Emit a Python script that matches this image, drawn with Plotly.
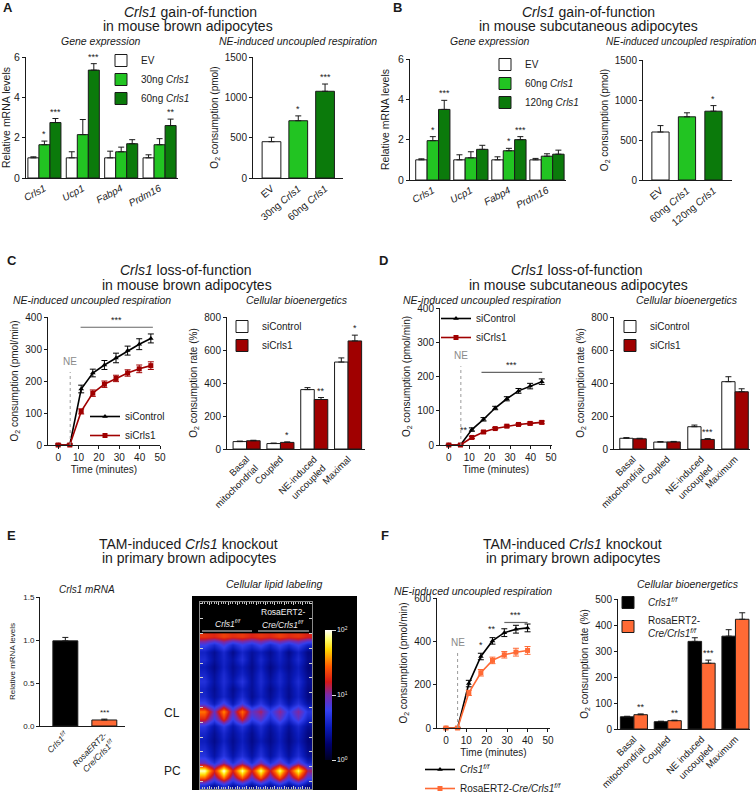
import plotly.graph_objects as go

W, H = 756, 793
FONT = "Liberation Sans, Arial, Helvetica, sans-serif"
INK = "#1a1a1a"
GREEN_L = "#22C422"
GREEN_D = "#0B7A0B"
RED_D = "#A00000"
ORANGE = "#FF6A35"

# ---------------- data ----------------
# A: gain-of-function, brown adipocytes
A_genes = ["<i>Crls1</i>", "<i>Ucp1</i>", "<i>Fabp4</i>", "<i>Prdm16</i>"]
A_series = ["EV", "30ng <i>Crls1</i>", "60ng <i>Crls1</i>"]
A_expr_EV = [1.0, 1.0, 1.0, 1.0]
A_expr_EV_err = [0.05, 0.30, 0.33, 0.15]
A_expr_30 = [1.65, 2.15, 1.30, 1.65]
A_expr_30_err = [0.18, 0.75, 0.23, 0.30]
A_expr_60 = [2.75, 5.35, 1.70, 2.60]
A_expr_60_err = [0.20, 0.32, 0.20, 0.32]
A_expr_sig = [["", "", "", ""], ["*", "", "", ""], ["***", "***", "", "**"]]
A_ne = [450, 710, 1075]
A_ne_err = [55, 60, 90]
A_ne_sig = ["", "*", "***"]

# B: gain-of-function, subcutaneous adipocytes
B_series = ["EV", "60ng <i>Crls1</i>", "120ng <i>Crls1</i>"]
B_expr_EV = [1.0, 1.0, 1.0, 1.0]
B_expr_EV_err = [0.05, 0.25, 0.15, 0.07]
B_expr_60 = [1.95, 1.10, 1.45, 1.18]
B_expr_60_err = [0.20, 0.30, 0.12, 0.12]
B_expr_120 = [3.50, 1.52, 2.00, 1.28]
B_expr_120_err = [0.45, 0.20, 0.15, 0.20]
B_expr_sig = [["", "", "", ""], ["*", "", "*", ""], ["***", "", "***", ""]]
B_ne = [600, 790, 860]
B_ne_err = [80, 50, 70]
B_ne_sig = ["", "", "*"]

# C: loss-of-function, brown adipocytes
C_time = [0, 5.7, 11.3, 17.0, 22.7, 28.4, 34.1, 39.8, 45.5]
C_ctrl = [0, 0, 175, 225, 250, 272, 295, 315, 333]
C_ctrl_err = [3, 3, 12, 12, 14, 15, 14, 17, 14]
C_kd = [0, 0, 105, 162, 190, 208, 225, 238, 248]
C_kd_err = [3, 3, 8, 10, 10, 10, 10, 12, 12]
C_sig_span = [11.0, 46.5]
C_sig_level = 368
C_ne_time = 5.9
C_ne_top = 228
C_bio_labels = ["Basal<br>mitochondrial", "Coupled", "NE-induced<br>uncoupled", "Maximal"]
C_bio_ctrl = [45, 33, 360, 527]
C_bio_ctrl_err = [3, 3, 12, 25]
C_bio_kd = [50, 40, 300, 655]
C_bio_kd_err = [3, 3, 12, 35]
C_bio_sig = ["", "*", "**", "*"]

# D: loss-of-function, subcutaneous adipocytes
D_time = [0, 5.7, 11.3, 17.0, 22.7, 28.4, 34.1, 39.8, 45.5]
D_ctrl = [0, 0, 45, 75, 108, 135, 158, 172, 185]
D_ctrl_err = [2, 2, 5, 5, 5, 6, 7, 8, 8]
D_kd = [0, 0, 22, 38, 48, 55, 60, 63, 66]
D_kd_err = [2, 2, 3, 3, 3, 3, 3, 4, 4]
D_sig_span = [16.0, 45.7]
D_sig_level = 212
D_ne_time = 5.9
D_ne_top = 230
D_bio_labels = ["Basal<br>mitochondrial", "Coupled", "NE-induced<br>uncoupled", "Maximum"]
D_bio_ctrl = [65, 42, 135, 408]
D_bio_ctrl_err = [4, 3, 10, 30]
D_bio_kd = [62, 43, 58, 347]
D_bio_kd_err = [3, 3, 5, 18]
D_bio_sig = ["", "", "***", ""]

# E: TAM-induced knockout
E_labels = ["<i>Crls1<sup>f/f</sup></i>", "<i>RosaERT2-<br>Cre/Crls1<sup>f/f</sup></i>"]
E_mrna = [0.99, 0.07]
E_mrna_err = [0.04, 0.01]
E_mrna_sig = ["", "***"]
# log10 ion intensity, rows top->bottom, 6 lanes x (spot, gap)
E_lipid = [
    [1.30, 1.25, 1.35, 1.28, 1.32, 1.24, 1.30, 1.26, 1.34, 1.27, 1.31, 1.22],
    [0.80, 0.62, 0.85, 0.60, 0.78, 0.64, 0.82, 0.60, 0.79, 0.63, 0.80, 0.58],
    [0.55, 0.38, 0.60, 0.35, 0.58, 0.40, 0.52, 0.37, 0.57, 0.34, 0.55, 0.32],
    [0.62, 0.40, 0.58, 0.42, 0.65, 0.38, 0.60, 0.40, 0.55, 0.39, 0.61, 0.35],
    [0.50, 0.34, 0.56, 0.37, 0.52, 0.35, 0.54, 0.33, 0.50, 0.36, 0.53, 0.30],
    [0.58, 0.39, 0.62, 0.40, 0.57, 0.38, 0.60, 0.37, 0.58, 0.40, 0.56, 0.34],
    [0.66, 0.42, 0.64, 0.45, 0.68, 0.40, 0.62, 0.42, 0.60, 0.41, 0.63, 0.37],
    [0.56, 0.38, 0.60, 0.36, 0.55, 0.39, 0.58, 0.35, 0.54, 0.37, 0.57, 0.33],
    [0.60, 0.40, 0.58, 0.39, 0.62, 0.37, 0.55, 0.38, 0.57, 0.36, 0.55, 0.33],
    [0.80, 0.52, 0.85, 0.50, 0.82, 0.48, 0.72, 0.47, 0.70, 0.45, 0.68, 0.42],
    [1.50, 0.95, 1.55, 0.92, 1.48, 0.90, 1.10, 0.75, 1.05, 0.72, 1.02, 0.68],
    [1.25, 0.78, 1.30, 0.75, 1.22, 0.74, 0.92, 0.62, 0.90, 0.60, 0.88, 0.56],
    [0.70, 0.45, 0.72, 0.46, 0.68, 0.44, 0.64, 0.42, 0.62, 0.40, 0.60, 0.38],
    [0.58, 0.38, 0.60, 0.40, 0.56, 0.36, 0.57, 0.37, 0.55, 0.35, 0.54, 0.32],
    [0.52, 0.35, 0.55, 0.36, 0.53, 0.34, 0.50, 0.35, 0.52, 0.33, 0.50, 0.30],
    [0.60, 0.40, 0.63, 0.39, 0.58, 0.38, 0.60, 0.40, 0.57, 0.37, 0.58, 0.34],
    [0.68, 0.44, 0.70, 0.45, 0.66, 0.43, 0.67, 0.42, 0.65, 0.41, 0.64, 0.38],
    [0.95, 0.65, 1.00, 0.64, 0.96, 0.62, 0.98, 0.63, 0.94, 0.60, 0.92, 0.56],
    [1.95, 1.25, 2.00, 1.22, 1.92, 1.20, 1.90, 1.18, 1.88, 1.17, 1.85, 1.10],
    [1.45, 0.92, 1.50, 0.90, 1.42, 0.88, 1.40, 0.87, 1.38, 0.85, 1.35, 0.80],
    [0.62, 0.40, 0.65, 0.42, 0.60, 0.38, 0.58, 0.40, 0.60, 0.37, 0.57, 0.34],
]
E_cbar_ticks = [0, 1, 2]
E_cbar_text = ["10<sup>0</sup>", "10<sup>1</sup>", "10<sup>2</sup>"]

# F: TAM-induced knockout respiration
F_time = [0, 5.7, 11.2, 17.1, 22.8, 28.6, 34.3, 40.0]
F_ctrl = [0, 0, 205, 330, 402, 440, 456, 462]
F_ctrl_err = [3, 3, 15, 15, 15, 18, 18, 18]
F_ko = [0, 0, 162, 255, 312, 338, 350, 358]
F_ko_err = [3, 3, 12, 15, 15, 15, 18, 18]
F_point_sig = ["", "", "", "*", "**", "", "", ""]
F_sig_span = [28.6, 40.0]
F_sig_level = 487
F_ne_time = 5.7
F_ne_top = 348
F_bio_labels = ["Basal<br>mitochondrial", "Coupled", "NE induced<br>uncoupled", "Maximum"]
F_bio_ctrl = [47, 28, 337, 357]
F_bio_ctrl_err = [2, 2, 14, 25]
F_bio_ko = [55, 32, 253, 422]
F_bio_ko_err = [3, 2, 12, 25]
F_bio_sig = ["**", "**", "***", ""]

# ---------------- helpers ----------------
def xd(l, r):
    return [l / W, r / W]


def yd(t, b):
    return [1 - b / H, 1 - t / H]


def xn(n):
    return "x" if n == 1 else f"x{n}"


def yn(n):
    return "y" if n == 1 else f"y{n}"


fig = go.Figure()
layout_axes = {}
annotations = []
shapes = []

base_ax = dict(showline=True, linecolor=INK, linewidth=1, showgrid=False, zeroline=False,
               ticks="outside", ticklen=3, tickwidth=1, tickcolor=INK, automargin=False,
               tickfont=dict(size=10, color=INK, family=FONT), fixedrange=True)


def add_axes(n, xdom, ydom, xrange, yrange, ydtick, xtickvals=None, xticktext=None,
             xtickangle=0, xdtick=None, xtitle=None, ytitle=None, ystand=4, yfont=10,
             xfont=10, ytickformat=None, xticks=""):
    xa = dict(base_ax, domain=xd(*xdom), range=xrange, anchor=yn(n))
    xa["tickfont"] = dict(size=xfont, color=INK, family=FONT)
    if xtickvals is not None:
        xa.update(tickmode="array", tickvals=xtickvals, ticktext=xticktext, tickangle=xtickangle,
                  ticks=xticks)
    else:
        xa.update(dtick=xdtick, tick0=0)
    if xtitle:
        xa["title"] = dict(text=xtitle, font=dict(size=10, color=INK, family=FONT), standoff=3)
    ya = dict(base_ax, domain=yd(*ydom), range=yrange, anchor=xn(n), dtick=ydtick, tick0=0)
    ya["tickfont"] = dict(size=yfont, color=INK, family=FONT)
    if ytickformat:
        ya["tickformat"] = ytickformat
    if ytitle:
        ya["title"] = dict(text=ytitle, font=dict(size=yfont, color=INK, family=FONT), standoff=ystand)
    layout_axes["xaxis" if n == 1 else f"xaxis{n}"] = xa
    layout_axes["yaxis" if n == 1 else f"yaxis{n}"] = ya


def err_up(arr, color=INK):
    return dict(type="data", array=arr, arrayminus=[0] * len(arr), symmetric=False,
                color=color, thickness=1, width=3)


def star(n, x, y, text, size=9, color=INK):
    if text:
        annotations.append(dict(xref=xn(n), yref=yn(n), x=x, y=y, text=text, showarrow=False,
                                yanchor="bottom", xanchor="center",
                                font=dict(size=size, color=color, family=FONT)))


def bar_series(n, values, errs, sigs, colors, names, width, legend, showlegend=True, ssize=9):
    k = len(values)
    for i in range(k):
        offset = -width * k / 2 + i * width
        xs = list(range(len(values[i])))
        fig.add_trace(go.Bar(
            x=xs, y=values[i], width=width, offset=offset, xaxis=xn(n), yaxis=yn(n),
            marker=dict(color=colors[i], line=dict(color=INK, width=1)),
            error_y=err_up(errs[i]), name=names[i], legend=legend, showlegend=showlegend,
            cliponaxis=False))
        for j, v in enumerate(values[i]):
            star(n, j + offset + width / 2, v + errs[i][j], sigs[i][j], size=ssize)


def line_series(n, t, vals, errs, color, symbol, name, legend):
    fig.add_trace(go.Scatter(
        x=t, y=vals, mode="lines+markers", xaxis=xn(n), yaxis=yn(n), name=name, legend=legend,
        line=dict(color=color, width=1.6), marker=dict(symbol=symbol, size=5, color=color),
        error_y=dict(type="data", array=errs, color=color, thickness=1, width=3),
        cliponaxis=False))


def ne_marker(n, t, top, label_gap):
    shapes.append(dict(type="line", xref=xn(n), yref=yn(n), x0=t, x1=t, y0=0, y1=top,
                       line=dict(color="#9a9a9a", width=1, dash="dot")))
    annotations.append(dict(xref=xn(n), yref=yn(n), x=t, y=top + label_gap, text="NE",
                            showarrow=False, yanchor="bottom",
                            font=dict(size=10, color="#8a8a8a", family=FONT)))


def sig_bar(n, span, level, text="***"):
    shapes.append(dict(type="line", xref=xn(n), yref=yn(n), x0=span[0], x1=span[1],
                       y0=level, y1=level, line=dict(color="#666", width=1.2)))
    star(n, (span[0] + span[1]) / 2, level, text)


def text(xpx, ypx, t, size=10, italic=False, bold=False, color=INK, xanchor="center"):
    if italic:
        t = f"<i>{t}</i>"
    if bold:
        t = f"<b>{t}</b>"
    annotations.append(dict(xref="paper", yref="paper", x=xpx / W, y=1 - ypx / H, text=t,
                            showarrow=False, xanchor=xanchor, yanchor="middle",
                            font=dict(size=size, color=color, family=FONT)))


def legend_at(xpx, ypx, size=10):
    return dict(x=xpx / W, y=1 - ypx / H, xanchor="left", yanchor="top", bgcolor="rgba(0,0,0,0)",
                font=dict(size=size, color=INK, family=FONT), tracegroupgap=0, itemwidth=30,
                borderwidth=0)


# ---------------- axes ----------------
add_axes(1, (26, 178), (57, 178), [-0.48, 3.48], [0, 6], 2, [0, 1, 2, 3], A_genes, -28,
         ytitle="Relative mRNA levels", ystand=6, yfont=10.5)
add_axes(2, (253, 343), (57, 178), [-0.69, 2.67], [0, 1500], 500, [0, 1, 2], A_series, -40,
         ytitle="O<sub>2</sub> consumption (pmol)", ystand=4)
add_axes(3, (410, 566), (59, 180), [-0.6, 3.5], [0, 6], 2, [0, 1, 2, 3], A_genes, -28,
         ytitle="Relative mRNA levels", ystand=6, yfont=10.5)
add_axes(4, (643, 732), (60, 180), [-0.66, 2.7], [0, 1500], 500, [0, 1, 2], B_series, -40,
         ytitle="O<sub>2</sub> consumption (pmol)", ystand=4)
add_axes(5, (48, 160), (317, 445), [-5, 50], [0, 400], 100, xdtick=10, xtitle="Time (minutes)",
         ytitle="O<sub>2</sub> consumption (pmol/min)", ystand=4)
add_axes(6, (227, 365), (317, 449), [-0.58, 3.5], [0, 800], 200, [0, 1, 2, 3], C_bio_labels, -45,
         ytitle="O<sub>2</sub> consumption rate (%)", ystand=4, xfont=9.5)
add_axes(7, (440, 552), (308, 445), [-4.3, 50.5], [0, 400], 100, xdtick=10, xtitle="Time (minutes)",
         ytitle="O<sub>2</sub> consumption (pmol/min)", ystand=4)
add_axes(8, (614, 750), (317, 449), [-0.56, 3.44], [0, 800], 200, [0, 1, 2, 3], D_bio_labels, -45,
         ytitle="O<sub>2</sub> consumption rate (%)", ystand=4, xfont=9.5)
add_axes(9, (40, 125), (597, 726), [-0.65, 1.53], [0, 1.5], 0.5, [0, 1], E_labels, -45,
         ytitle="Relative mRNA levels", ystand=6, yfont=8, xfont=8.5, ytickformat=".1f")
add_axes(11, (437, 550), (598, 728), [-4.4, 51], [0, 600], 200, xdtick=10, xtitle="Time (minutes)",
         ytitle="O<sub>2</sub> consumption (pmol/min)", ystand=4)
add_axes(12, (618, 750), (599, 729), [-0.47, 3.43], [0, 500], 100, [0, 1, 2, 3], F_bio_labels, -45,
         ytitle="O<sub>2</sub> consumption rate (%)", ystand=4, xfont=9.5)

# heatmap axes (E right)
hm_ax = dict(showline=True, linecolor="#8a8a8a", linewidth=1, mirror="ticks", showgrid=False,
             zeroline=False, ticks="inside", ticklen=3, tickcolor="#cfcfcf", showticklabels=False,
             fixedrange=True, automargin=False)
layout_axes["xaxis10"] = dict(hm_ax, domain=xd(200, 312), range=[-0.5, 11.5], anchor="y10",
                              dtick=1, tick0=-0.5,
                              minor=dict(ticks="inside", ticklen=2, dtick=0.25, tickcolor="#bbb"))
layout_axes["yaxis10"] = dict(hm_ax, domain=yd(602, 789), range=[20.5, -4.73], anchor="x10",
                              dtick=2, tick0=-0.5)

# ---------------- traces ----------------
# A
bar_series(1, [A_expr_EV, A_expr_30, A_expr_60], [A_expr_EV_err, A_expr_30_err, A_expr_60_err],
           A_expr_sig, ["white", GREEN_L, GREEN_D], A_series, 0.287, "legend")
fig.add_trace(go.Bar(x=[0, 1, 2], y=A_ne, xaxis="x2", yaxis="y2", width=0.7,
                     marker=dict(color=["white", GREEN_L, GREEN_D], line=dict(color=INK, width=1)),
                     error_y=err_up(A_ne_err), showlegend=False, cliponaxis=False))
for j, v in enumerate(A_ne):
    star(2, j, v + A_ne_err[j], A_ne_sig[j])

# B
bar_series(3, [B_expr_EV, B_expr_60, B_expr_120], [B_expr_EV_err, B_expr_60_err, B_expr_120_err],
           B_expr_sig, ["white", GREEN_L, GREEN_D], B_series, 0.3, "legend2")
fig.add_trace(go.Bar(x=[0, 1, 2], y=B_ne, xaxis="x4", yaxis="y4", width=0.65,
                     marker=dict(color=["white", GREEN_L, GREEN_D], line=dict(color=INK, width=1)),
                     error_y=err_up(B_ne_err), showlegend=False, cliponaxis=False))
for j, v in enumerate(B_ne):
    star(4, j, v + B_ne_err[j], B_ne_sig[j])

# C
line_series(5, C_time, C_ctrl, C_ctrl_err, "#000000", "triangle-up", "siControl", "legend3")
line_series(5, C_time, C_kd, C_kd_err, RED_D, "square", "siCrls1", "legend3")
ne_marker(5, C_ne_time, C_ne_top, 8)
sig_bar(5, C_sig_span, C_sig_level)
bar_series(6, [C_bio_ctrl, C_bio_kd], [C_bio_ctrl_err, C_bio_kd_err], [["", "", "", ""], C_bio_sig],
           ["white", RED_D], ["siControl", "siCrls1"], 0.4, "legend4")

# D
line_series(7, D_time, D_ctrl, D_ctrl_err, "#000000", "triangle-up", "siControl", "legend5")
line_series(7, D_time, D_kd, D_kd_err, RED_D, "square", "siCrls1", "legend5")
ne_marker(7, D_ne_time, D_ne_top, 8)
sig_bar(7, D_sig_span, D_sig_level)
annotations.append(dict(xref="x7", yref="y7", x=D_time[2] - 1.0, y=D_ctrl[2], text="**",
                        showarrow=False, xanchor="right", yanchor="middle",
                        font=dict(size=9, color=INK, family=FONT)))
bar_series(8, [D_bio_ctrl, D_bio_kd], [D_bio_ctrl_err, D_bio_kd_err], [["", "", "", ""], D_bio_sig],
           ["white", RED_D], ["siControl", "siCrls1"], 0.39, "legend6")

# E
fig.add_trace(go.Bar(x=[0, 1], y=E_mrna, xaxis="x9", yaxis="y9", width=0.64,
                     marker=dict(color=["#000000", ORANGE], line=dict(color=INK, width=1)),
                     error_y=err_up(E_mrna_err), showlegend=False, cliponaxis=False))
for j, v in enumerate(E_mrna):
    star(9, j, v + E_mrna_err[j], E_mrna_sig[j], size=8)
fig.add_trace(go.Heatmap(
    z=E_lipid, xaxis="x10", yaxis="y10", zmin=0, zmax=2, showscale=True, hoverinfo="skip",
    zsmooth="best",
    colorscale=[[0, "#000020"], [0.12, "#00006a"], [0.25, "#0a1ab8"], [0.38, "#3340f0"],
                [0.5, "#7a2aa8"], [0.6, "#d41818"], [0.72, "#ff5a00"], [0.85, "#ffd800"],
                [0.93, "#ffff70"], [1, "#ffffff"]],
    colorbar=dict(x=325 / W, xanchor="left", y=1 - 695 / H, yanchor="middle", len=130 / H,
                  lenmode="fraction", thickness=7, thicknessmode="pixels", outlinewidth=0,
                  xpad=0, ypad=0,
                  tickmode="array", tickvals=E_cbar_ticks, ticktext=E_cbar_text,
                  ticks="outside", ticklen=4, tickcolor="#dddddd",
                  tickfont=dict(size=7, color="#eeeeee", family=FONT))))

# F
line_series(11, F_time, F_ctrl, F_ctrl_err, "#000000", "triangle-up",
            "<i>Crls1<sup>f/f</sup></i>", "legend7")
line_series(11, F_time, F_ko, F_ko_err, ORANGE, "square",
            "RosaERT2-<i>Cre/Crls1<sup>f/f</sup></i>", "legend7")
ne_marker(11, F_ne_time, F_ne_top, 10)
sig_bar(11, F_sig_span, F_sig_level)
for j, s in enumerate(F_point_sig):
    star(11, F_time[j], F_ctrl[j] + F_ctrl_err[j] + 8, s)
bar_series(12, [F_bio_ctrl, F_bio_ko], [F_bio_ctrl_err, F_bio_ko_err], [["", "", "", ""], F_bio_sig],
           ["#000000", ORANGE],
           ["<i>Crls1<sup>f/f</sup></i>", "RosaERT2-<br><i>Cre/Crls1<sup>f/f</sup></i>"],
           0.4, "legend8")

# ---------------- texts ----------------
text(8, 8, "A", 13, bold=True)
text(397, 8, "B", 13, bold=True)
text(12, 261, "C", 13, bold=True)
text(383, 261, "D", 13, bold=True)
text(11, 535, "E", 13, bold=True)
text(385, 535, "F", 13, bold=True)

text(190, 12, "<i>Crls1</i> gain-of-function", 14)
text(188, 26, "in mouse brown adipocytes", 14)
text(588, 12, "<i>Crls1</i> gain-of-function", 14)
text(588, 26, "in mouse subcutaneous adipocytes", 14)
text(186, 270, "<i>Crls1</i> loss-of-function", 14)
text(187, 285, "in mouse brown adipocytes", 14)
text(577, 270, "<i>Crls1</i> loss-of-function", 14)
text(578, 285, "in mouse subcutaneous adipocytes", 14)
text(188, 544, "TAM-induced <i>Crls1</i> knockout", 14)
text(189, 558, "in primary brown adipocytes", 14)
text(572, 544, "TAM-induced <i>Crls1</i> knockout", 14)
text(573, 558, "in primary brown adipocytes", 14)

text(101, 41, "Gene expression", 10.5, italic=True)
text(298, 41, "NE-induced uncoupled respiration", 10.5, italic=True)
text(490, 41, "Gene expression", 10.5, italic=True)
text(681, 41, "NE-induced uncoupled respiration", 10, italic=True)
text(92, 300, "NE-induced uncoupled respiration", 10.5, italic=True)
text(297, 300, "Cellular bioenergetics", 10.5, italic=True)
text(482, 300, "NE-induced uncoupled respiration", 10.5, italic=True)
text(687, 300, "Cellular bioenergetics", 10.5, italic=True)
text(87, 589, "Crls1 mRNA", 10, italic=True)
text(274, 584, "Cellular lipid labeling", 10.5, italic=True)
text(473, 591, "NE-induced uncoupled respiration", 10.5, italic=True)
text(688, 584, "Cellular bioenergetics", 10.5, italic=True)

# E image annotations
text(172, 713, "CL", 12)
text(172, 771, "PC", 12)
text(228, 623, "<i>Crls1<sup>f/f</sup></i>", 8.5, color="#f0f0f0")
text(283, 612, "RosaERT2-", 8.5, color="#f0f0f0")
text(283, 624, "<i>Cre/Crls1<sup>f/f</sup></i>", 8.5, color="#f0f0f0")
shapes.append(dict(type="rect", xref="paper", yref="paper", x0=192 / W, x1=357 / W,
                   y0=1 - 790 / H, y1=1 - 596 / H, fillcolor="#000000", line=dict(width=0),
                   layer="below"))
shapes.append(dict(type="line", xref="paper", yref="paper", x0=202 / W, x1=252 / W,
                   y0=1 - 631 / H, y1=1 - 631 / H, line=dict(color="#e0e0e0", width=1)))
shapes.append(dict(type="line", xref="paper", yref="paper", x0=258 / W, x1=309 / W,
                   y0=1 - 631 / H, y1=1 - 631 / H, line=dict(color="#e0e0e0", width=1)))

fig.update_layout(
    template="none",
    width=W, height=H, margin=dict(l=0, r=0, t=0, b=0, pad=0, autoexpand=False), autosize=False,
    paper_bgcolor="white", plot_bgcolor="rgba(0,0,0,0)", barmode="overlay",
    font=dict(family=FONT, color=INK, size=10), showlegend=True,
    annotations=annotations, shapes=shapes,
    legend=legend_at(101, 46), legend2=legend_at(485, 50), legend3=legend_at(85, 402),
    legend4=legend_at(222, 312), legend5=legend_at(436, 304), legend6=legend_at(610, 312),
    legend7=legend_at(420, 755), legend8=legend_at(608, 588),
    **layout_axes,
)

fig.write_html(
    "out.html",
    config={"displayModeBar": False, "staticPlot": True},
    post_script="document.body.style.margin='0';document.body.style.overflow='hidden';",
)
